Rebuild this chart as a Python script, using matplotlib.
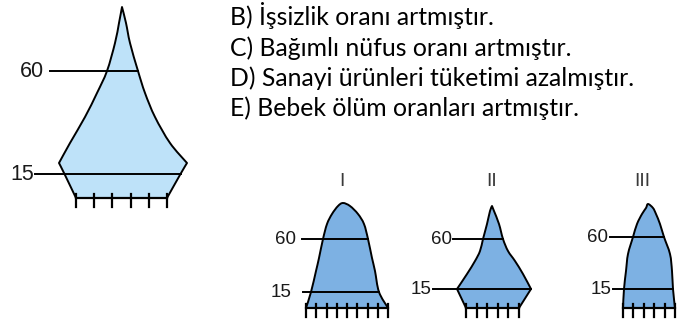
import numpy as np
import matplotlib.pyplot as plt
from matplotlib.path import Path
from matplotlib.patches import PathPatch

# pyramid outlines: height above base (px) and left/right edge offsets from base centre
BIG_H = [0, 24, 35, 55, 81, 105, 127, 155, 175, 191]
BIG_L = [-45.5, -57, -62.5, -51.5, -36.5, -24.5, -14.5, -6.5, -2.5, 0.5]
BIG_R = [45.5, 59, 65.5, 48.5, 33.5, 23.5, 16.5, 8.5, 4.5, 0.5]

I_H = [0, 16, 37, 50, 69, 84, 94, 102, 105]
I_L = [-41, -36, -31, -28, -24, -20, -15, -9, -4]
I_R = [41, 32, 28, 25, 21, 17, 11, 3, -4]

II_H = [0, 19, 34, 47, 57, 69, 84, 97, 102]
II_L = [-26.5, -35.5, -25.5, -17.5, -12.5, -9.5, -5.5, -2.5, -0.5]
II_R = [26.5, 38.5, 30.5, 22.5, 15.5, 10.5, 6.5, 1.5, -0.5]

III_H = [0, 19, 37, 54, 71, 84, 94, 100, 104]
III_L = [-26, -25, -23, -21, -16, -12, -7, -3, -1]
III_R = [26, 24, 23, 21, 15, 11, 7, 4, -1]

AGE_LABELS = ["15", "60"]
BIG_AGE_H = [24, 127]
I_AGE_H = [16, 69]
II_AGE_H = [19, 69]
III_AGE_H = [19, 71]

ROMAN = ["I", "II", "III"]

OPTIONS = [
    "B) İşsizlik oranı artmıştır.",
    "C) Bağımlı nüfus oranı artmıştır.",
    "D) Sanayi ürünleri tüketimi azalmıştır.",
    "E) Bebek ölüm oranları artmıştır.",
]

LIGHT = "#bee2f9"
MID = "#7db1e3"

fig = plt.figure(figsize=(6.88, 3.23), dpi=100)
ax = fig.add_axes([0, 0, 1, 1])
ax.set_xlim(0, 688)
ax.set_ylim(323, 0)
ax.axis("off")


def outline_path(pts, corners):
    """Straight between corner points when adjacent, smooth (catmull-rom) otherwise."""
    pts = np.asarray(pts, float)
    verts, codes = [pts[0]], [Path.MOVETO]
    for a, b in zip(corners[:-1], corners[1:]):
        seg = pts[a:b + 1]
        if len(seg) == 2:
            verts.append(seg[1]); codes.append(Path.LINETO)
            continue
        ext = np.vstack([seg[0], seg, seg[-1]])
        for i in range(1, len(ext) - 2):
            p0, p1, p2, p3 = ext[i - 1], ext[i], ext[i + 1], ext[i + 2]
            verts += [p1 + (p2 - p0) / 6, p2 - (p3 - p1) / 6, p2]
            codes += [Path.CURVE4] * 3
    verts.append(pts[0]); codes.append(Path.CLOSEPOLY)
    return Path(verts, codes)


def draw_pyramid(cx, base, H, L, R, age_h, line_start, n_ticks, color,
                 fs, lbl_gap, left_corners, sharp_top):
    H = np.array(H, float)
    n = len(H)
    left = [(cx + l, base - h) for h, l in zip(H, L)]
    right = [(cx + r, base - h) for h, r in zip(H[::-1], R[::-1])][1:]
    pts = left + right
    last = len(pts) - 1
    corners = [0] + list(left_corners)
    if sharp_top:
        corners.append(n - 1)
    corners += [last - c for c in reversed(left_corners)] + [last]
    ax.add_patch(PathPatch(outline_path(pts, corners), facecolor=color,
                           edgecolor="black", lw=1.4, joinstyle="round"))
    # age lines
    for lab, h, x0, g in zip(AGE_LABELS, age_h, line_start, lbl_gap):
        xr = np.interp(h, H, R)
        ax.plot([cx + x0, cx + xr], [base - h, base - h], color="black", lw=1.4)
        ax.text(cx + x0 - g, base - h + 0.5, lab, ha="right", va="center",
                fontsize=fs, family="Liberation Sans", color="#1a1a1a")
    # base with ticks
    xs = np.linspace(cx + L[0], cx + R[0], n_ticks)
    ax.plot([xs[0], xs[-1]], [base, base], color="black", lw=1.6)
    for x in xs:
        ax.plot([x, x], [base - 4.5, base + 9], color="black", lw=1.6)


draw_pyramid(121.5, 198, BIG_H, BIG_L, BIG_R, BIG_AGE_H, [-86.5, -71.5],
             6, LIGHT, 15.5, [1, 6], [2], True)
draw_pyramid(347, 308, I_H, I_L, I_R, I_AGE_H, [-44, -45],
             9, MID, 13.5, [11, 6], [], False)
draw_pyramid(492.5, 308, II_H, II_L, II_R, II_AGE_H, [-59.5, -39.5],
             6, MID, 13.5, [1, 1], [1], True)
draw_pyramid(649, 308, III_H, III_L, III_R, III_AGE_H, [-36, -39],
             6, MID, 13.5, [1, 2], [], False)

for lab, x in zip(ROMAN, [342, 492, 642]):
    ax.text(x, 181, lab, ha="center", va="center", fontsize=14,
            family="Liberation Sans", color="#3a3a3a")

for i, s in enumerate(OPTIONS):
    ax.text(230, 25 + i * 30.5, s, ha="left", va="baseline", fontsize=17.8,
            family="Lato", color="black")

fig.savefig("out.png", dpi=100)
